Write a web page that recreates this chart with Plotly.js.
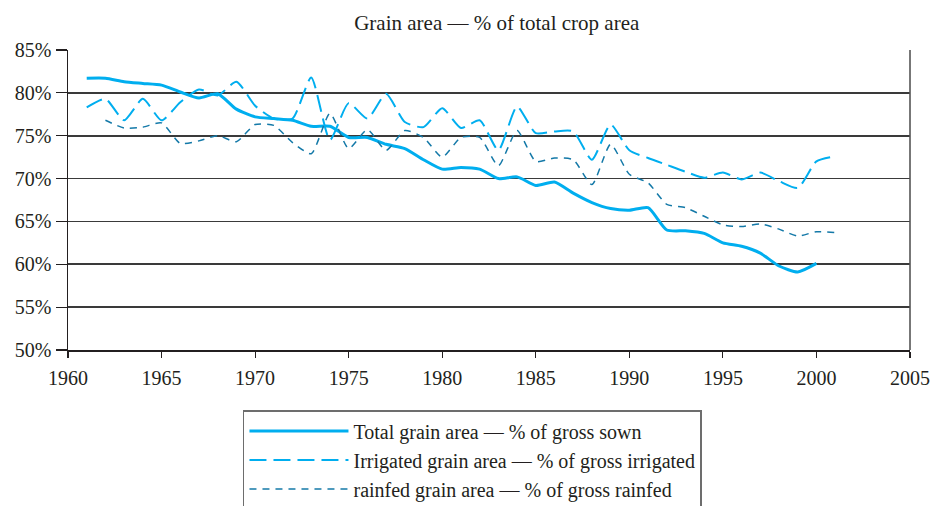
<!DOCTYPE html>
<html>
<head>
<meta charset="utf-8">
<script src="https://cdn.plot.ly/plotly-3.0.1.min.js"></script>
<style>html,body{margin:0;padding:0;background:#fff;}#chart{width:932px;height:506px;}</style>
</head>
<body>
<div id="chart"></div>
<script>
// Total grain area — % of gross sown (1961–2000)
var totalYears = [1961,1962,1963,1964,1965,1966,1967,1968,1969,1970,1971,1972,1973,1974,1975,1976,1977,1978,1979,1980,1981,1982,1983,1984,1985,1986,1987,1988,1989,1990,1991,1992,1993,1994,1995,1996,1997,1998,1999,2000];
var totalPct = [81.7,81.7,81.3,81.1,80.9,80.1,79.4,79.9,78.1,77.2,77.0,76.8,76.1,76.1,74.8,74.8,74.0,73.5,72.2,71.1,71.3,71.1,70.0,70.2,69.2,69.6,68.3,67.2,66.5,66.3,66.6,64.0,63.9,63.6,62.5,62.1,61.3,59.8,59.1,60.1];

// Irrigated grain area — % of gross irrigated (1961–2001)
var irrYears = [1961,1962,1963,1964,1965,1966,1967,1968,1969,1970,1971,1972,1973,1974,1975,1976,1977,1978,1979,1980,1981,1982,1983,1984,1985,1986,1987,1988,1989,1990,1991,1992,1993,1994,1995,1996,1997,1998,1999,2000,2001];
var irrPct = [78.3,79.3,76.8,79.3,76.8,78.9,80.4,79.7,81.3,78.5,77.0,77.0,81.8,74.5,78.8,77.0,79.9,76.6,76.0,78.2,75.9,76.8,73.3,78.4,75.3,75.5,75.5,72.2,76.3,73.3,72.4,71.6,70.8,70.1,70.7,69.9,70.7,69.7,68.9,72.0,72.6];

// Rainfed grain area — % of gross rainfed (1962–2001)
var rainYears = [1962,1963,1964,1965,1966,1967,1968,1969,1970,1971,1972,1973,1974,1975,1976,1977,1978,1979,1980,1981,1982,1983,1984,1985,1986,1987,1988,1989,1990,1991,1992,1993,1994,1995,1996,1997,1998,1999,2000,2001];
var rainPct = [76.8,75.9,76.0,76.5,74.1,74.4,75.0,74.3,76.3,76.2,74.2,72.9,77.6,73.5,75.7,73.3,75.6,74.8,72.5,74.8,74.8,71.5,75.6,72.0,72.4,72.2,69.3,74.0,70.5,69.5,67.0,66.6,65.6,64.6,64.4,64.7,64.1,63.3,63.8,63.7];

var seriesNames = [
  "Total grain area \u2014 % of gross sown",
  "Irrigated grain area \u2014 % of gross irrigated",
  "rainfed grain area \u2014 % of gross rainfed"
];
var yTickVals = [50,55,60,65,70,75,80,85];
var yTickText = ["50%","55%","60%","65%","70%","75%","80%","85%"];
var xTickVals = [1960,1965,1970,1975,1980,1985,1990,1995,2000,2005];

var FONT = "'Liberation Serif', 'DejaVu Serif', serif";
var TXT = '#231f20';

var traces = [
  {x: totalYears, y: totalPct, name: seriesNames[0], type: 'scatter', mode: 'lines',
   line: {color: '#00AEEF', width: 3, shape: 'spline', smoothing: 0.6}},
  {x: irrYears, y: irrPct, name: seriesNames[1], type: 'scatter', mode: 'lines',
   line: {color: '#00AEEF', width: 2, dash: '17px,7px', shape: 'spline', smoothing: 0.6}},
  {x: rainYears, y: rainPct, name: seriesNames[2], type: 'scatter', mode: 'lines',
   line: {color: '#1479A8', width: 1.5, dash: '7px,6px', shape: 'spline', smoothing: 0.6}}
];

var layout = {
  width: 932, height: 506,
  margin: {l: 68, r: 22, t: 50, b: 156, autoexpand: false},
  paper_bgcolor: '#ffffff', plot_bgcolor: '#ffffff',
  font: {family: FONT, size: 20, color: TXT},
  title: {text: 'Grain area \u2014 % of total crop area', xref: 'container', x: 0.533, xanchor: 'center',
          yref: 'container', y: 0.956, yanchor: 'middle', font: {family: FONT, size: 21, color: TXT}},
  xaxis: {range: [1960, 2005], tickvals: xTickVals, ticktext: xTickVals.map(String),
          ticks: 'outside', ticklen: 6, tickwidth: 1.2, tickcolor: TXT, ticklabelstandoff: 3,
          showline: true, linecolor: TXT, linewidth: 1.5, mirror: false,
          showgrid: false, zeroline: false, fixedrange: true,
          tickfont: {family: FONT, size: 20, color: TXT}},
  yaxis: {range: [50, 85], tickvals: yTickVals, ticktext: yTickText,
          ticks: 'outside', ticklen: 11, tickwidth: 1.2, tickcolor: TXT,
          showline: true, linecolor: TXT, linewidth: 1.5,
          showgrid: true, gridcolor: '#3a3a3a', gridwidth: 1.6, zeroline: false, fixedrange: true,
          tickfont: {family: FONT, size: 20, color: TXT}},
  shapes: [
    {type: 'line', xref: 'paper', yref: 'paper', x0: 1, x1: 1, y0: 0, y1: 1,
     line: {color: '#555555', width: 1.6}}
  ],
  showlegend: true,
  legend: {x: 0.2078, y: -0.2, xanchor: 'left', yanchor: 'top', orientation: 'v',
           bordercolor: '#6d6d6d', borderwidth: 1.5, bgcolor: '#ffffff',
           itemwidth: 99, font: {family: FONT, size: 20, color: TXT}}
};

Plotly.newPlot('chart', traces, layout, {displayModeBar: false, staticPlot: true});
</script>
</body>
</html>
